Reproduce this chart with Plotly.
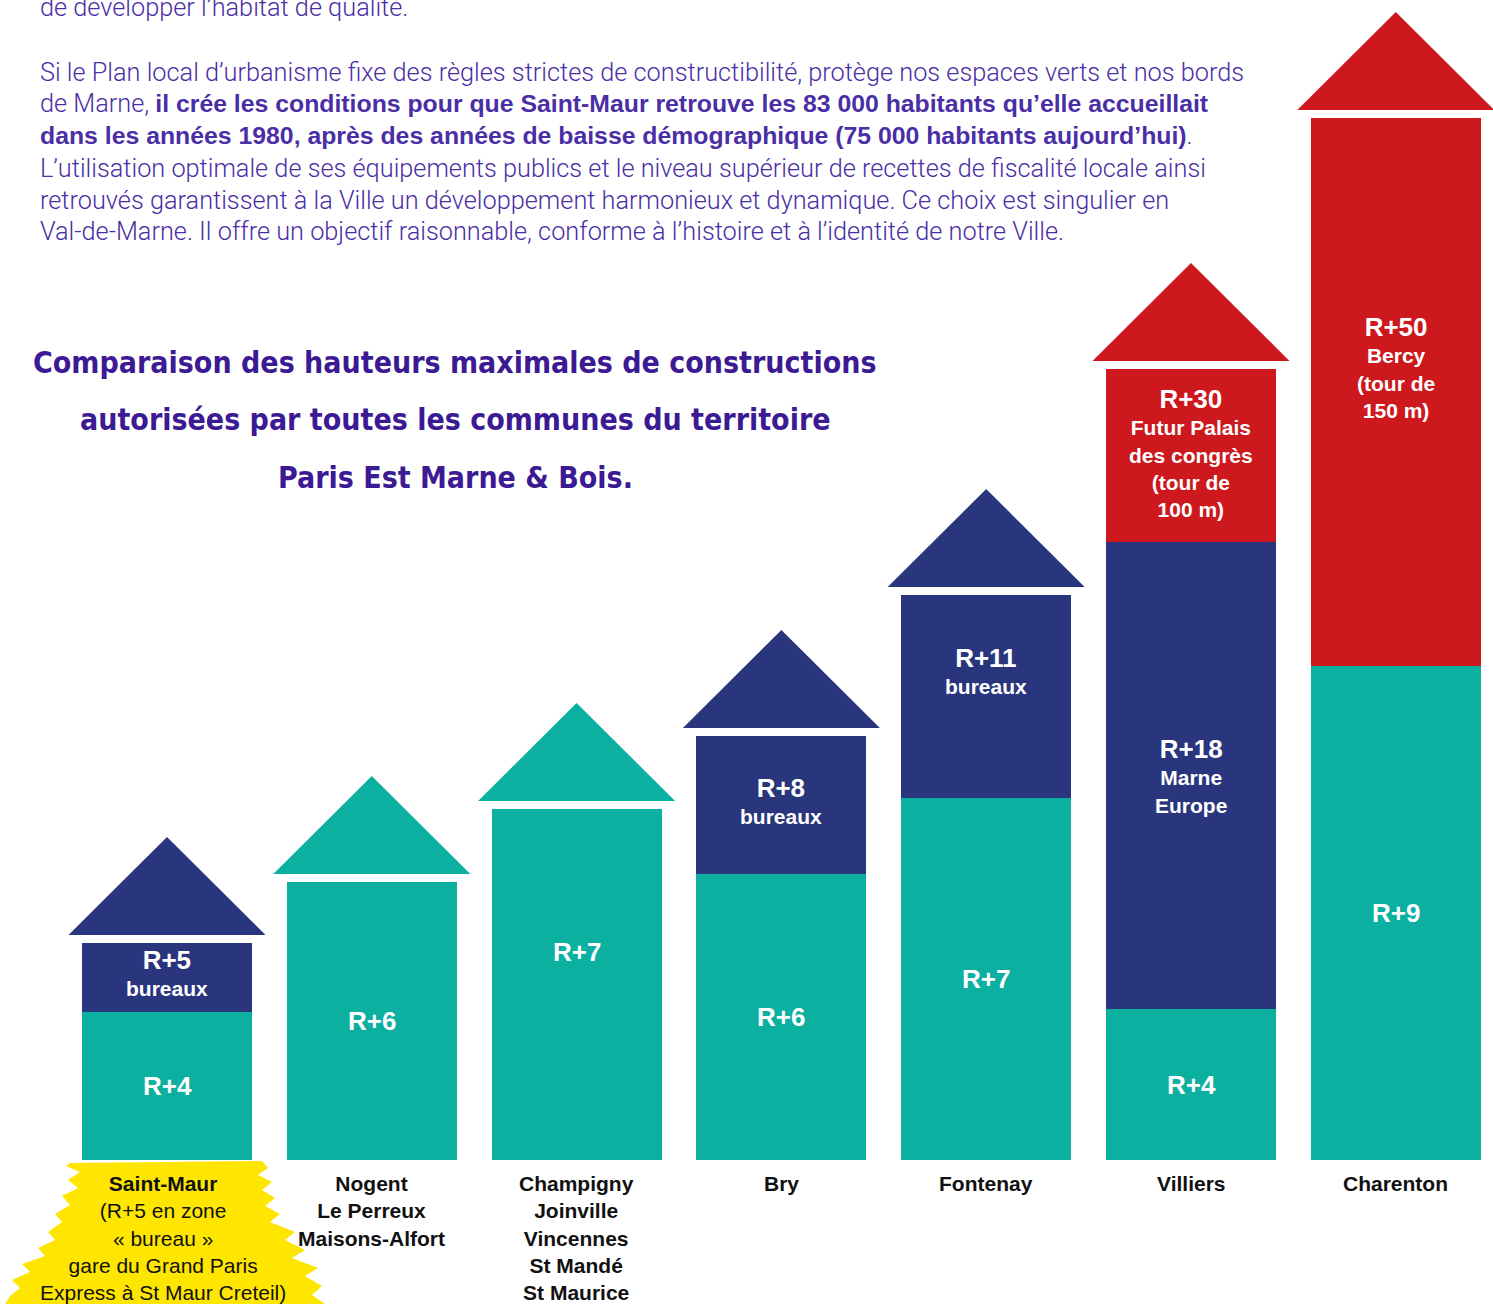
import plotly.graph_objects as go

# ---------------- data ----------------
communes = ["Saint-Maur", "Nogent", "Champigny", "Bry", "Fontenay", "Villiers", "Charenton"]
commune_labels = [
    "<b>Saint-Maur</b><br>(R+5 en zone<br>« bureau »<br>gare du Grand Paris<br>Express à St Maur Creteil)",
    "<b>Nogent<br>Le Perreux<br>Maisons-Alfort</b>",
    "<b>Champigny<br>Joinville<br>Vincennes<br>St Mandé<br>St Maurice</b>",
    "<b>Bry</b>",
    "<b>Fontenay</b>",
    "<b>Villiers</b>",
    "<b>Charenton</b>",
]
# segment heights as drawn in the infographic (visual units)
teal_heights = [148, 278, 351, 286, 362, 151, 494]
navy_heights = [69, 0, 0, 138, 203, 467, 0]
red_heights = [0, 0, 0, 0, 0, 173, 548]

teal_labels = ["R+4", "R+6", "R+7", "R+6", "R+7", "R+4", "R+9"]
navy_labels = ["R+5|bureaux", "", "", "R+8|bureaux", "R+11|bureaux", "R+18|Marne|Europe", ""]
red_labels = ["", "", "", "", "", "R+30|Futur Palais|des congrès|(tour de|100 m)", "R+50|Bercy|(tour de|150 m)"]

title_lines = [
    "Comparaison des hauteurs maximales de constructions",
    "autorisées par toutes les communes du territoire",
    "Paris Est Marne & Bois.",
]
# paragraph lines: [regular part, bold part, regular part]
para_lines = [
    ["de développer l’habitat de qualité.", "", ""],
    ["Si le Plan local d’urbanisme fixe des règles strictes de constructibilité, protège nos espaces verts et nos bords", "", ""],
    ["de Marne, ", "il crée les conditions pour que Saint-Maur retrouve les 83 000 habitants qu’elle accueillait", ""],
    ["", "dans les années 1980, après des années de baisse démographique (75 000 habitants aujourd’hui)", "."],
    ["L’utilisation optimale de ses équipements publics et le niveau supérieur de recettes de fiscalité locale ainsi", "", ""],
    ["retrouvés garantissent à la Ville un développement harmonieux et dynamique. Ce choix est singulier en", "", ""],
    ["Val-de-Marne. Il offre un objectif raisonnable, conforme à l’histoire et à l’identité de notre Ville.", "", ""],
]

# ---------------- style / layout config ----------------
W, H = 1493, 1304
TEAL, NAVY, RED = "#0BB0A1", "#29367E", "#CD181D"
PURPLE_T, PURPLE_P = "#3B1A94", "#4A2EA6"
YELLOW = "#FFE600"
STEP = 204.8          # px between bar centres
X0_PX = 167           # px of first bar centre
BASE_PX = 1160        # px of bar baseline
BAR_W = 170 / STEP
ROOF_HW = 98.5 / STEP
ROOF_H = 98
ROOF_GAP = 8
# label nudges (visual units, up positive) for some segments
nudge = {("teal", 2): 33, ("navy", 4): 26, ("red", 6): 25, ("navy", 3): 5, ("navy", 0): 5, ("red", 5): 3}

x_range = [-X0_PX / STEP, (W - X0_PX) / STEP]
y_range = [BASE_PX - H, BASE_PX]

xs = list(range(len(communes)))
fig = go.Figure()

# yellow brush highlight behind Saint-Maur label (decoration)
brush_px = [(70, 1163), (262, 1161), (268, 1168), (258, 1175), (272, 1182), (262, 1190), (275, 1198),
            (265, 1206), (280, 1214), (270, 1222), (295, 1232), (285, 1240), (305, 1250), (292, 1258),
            (318, 1268), (305, 1276), (322, 1286), (312, 1295), (325, 1304), (5, 1304), (10, 1296),
            (20, 1288), (12, 1280), (30, 1272), (22, 1264), (45, 1256), (38, 1248), (55, 1240), (48, 1232),
            (62, 1222), (55, 1214), (70, 1205), (62, 1196), (78, 1188), (68, 1180), (80, 1172), (66, 1166)]
path = "M " + " L ".join(f"{(px - X0_PX) / STEP:.4f},{BASE_PX - py}" for px, py in brush_px) + " Z"
fig.add_shape(type="path", path=path, fillcolor=YELLOW, line_width=0, layer="below", xref="x", yref="y")

series = [("teal", teal_heights, TEAL, teal_labels),
          ("navy", navy_heights, NAVY, navy_labels),
          ("red", red_heights, RED, red_labels)]
for name, vals, col, _ in series:
    fig.add_trace(go.Bar(x=xs, y=vals, width=BAR_W, marker=dict(color=col, line_width=0),
                         name=name, hoverinfo="skip", showlegend=False))

# roofs
for i in xs:
    top = teal_heights[i] + navy_heights[i] + red_heights[i]
    col = RED if red_heights[i] else (NAVY if navy_heights[i] else TEAL)
    yb = top + ROOF_GAP
    fig.add_trace(go.Scatter(x=[i - ROOF_HW, i, i + ROOF_HW, i - ROOF_HW],
                             y=[yb, yb + ROOF_H, yb, yb], fill="toself", fillcolor=col,
                             mode="lines", line=dict(width=0, color=col), hoverinfo="skip",
                             showlegend=False))

# segment labels
annotations = []
for i in xs:
    base = 0
    for name, vals, col, labs in series:
        h = vals[i]
        if h and labs[i]:
            parts = labs[i].split("|")
            txt = f"<span style='font-size:26px'>{parts[0]}</span>"
            if len(parts) > 1:
                txt += "<br>" + "<br>".join(parts[1:])
            fs = 21 if len(parts) > 1 else 26
            annotations.append(dict(x=i, y=base + h / 2 + nudge.get((name, i), 0), xref="x", yref="y",
                                    text=f"<b>{txt}</b>", showarrow=False, yanchor="middle",
                                    font=dict(family="Liberation Sans, Arial", size=fs, color="white")))
        base += h

# commune labels under bars
for i in xs:
    annotations.append(dict(x=i, y=-10, xref="x", yref="y", text=commune_labels[i], showarrow=False,
                            yanchor="top", xshift=-4 if i == 0 else 0,
                            font=dict(family="Liberation Sans, Arial", size=21, color="#111111")))

# title
title_y = [362, 420, 477]
for t, py in zip(title_lines, title_y):
    annotations.append(dict(x=455 / W, y=1 - py / H, xref="paper", yref="paper", text=f"<b>{t}</b>",
                            showarrow=False, xanchor="center", yanchor="middle",
                            font=dict(family="DejaVu Sans Condensed, Liberation Sans Narrow, DejaVu Sans",
                                      size=30, color=PURPLE_T)))

# paragraph
para_y = [8, 72, 104, 136, 168, 200, 232]
BOLD_SPAN = "<span style='font-family:Liberation Sans;font-weight:bold;font-size:24.8px'>"
for (r1, b, r2), py in zip(para_lines, para_y):
    t = r1 + (BOLD_SPAN + b + "</span>" if b else "") + r2
    annotations.append(dict(x=38 / W, y=1 - py / H, xref="paper", yref="paper", text=t, showarrow=False,
                            xanchor="left", yanchor="middle",
                            font=dict(family="Roboto, Liberation Sans", size=25.3, color=PURPLE_P,
                                      weight=300)))

fig.update_layout(
    width=W, height=H, autosize=False,
    margin=dict(l=0, r=0, t=0, b=0, pad=0),
    paper_bgcolor="white", plot_bgcolor="white",
    barmode="stack", bargap=0,
    xaxis=dict(range=x_range, visible=False, fixedrange=True),
    yaxis=dict(range=y_range, visible=False, fixedrange=True),
    annotations=annotations,
    showlegend=False,
)

fig.write_html("out.html", config={"displayModeBar": False},
               post_script="document.body.style.margin='0';document.body.style.overflow='hidden';")
